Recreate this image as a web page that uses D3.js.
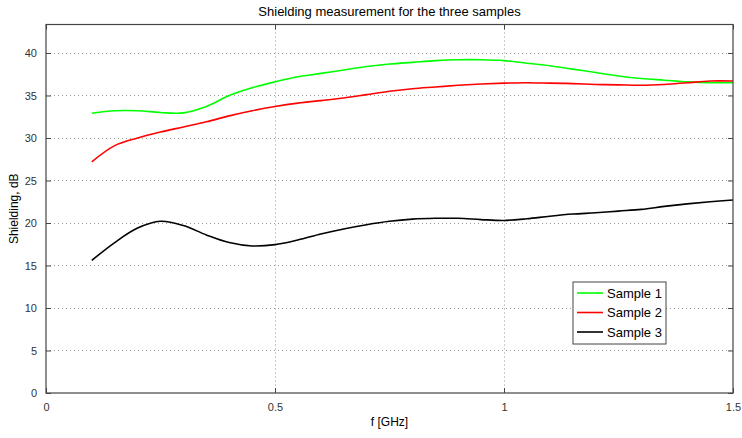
<!DOCTYPE html>
<html lang="en">
	<head>
		<meta charset="utf-8">
		<title>Shielding measurement</title>
		<script type="text/javascript" src="https://cdn.jsdelivr.net/npm/d3@7"></script>
		<style type="text/css">
			body { margin: 0; background: #fff; }
			text { font-family: "Liberation Sans", Arial, sans-serif; }
		</style>
	</head>
	<body>
		<script type="text/javascript">
			//Frequencies in GHz
			var freq = [0.1, 0.15, 0.2, 0.25, 0.3, 0.35, 0.4, 0.45, 0.5, 0.55, 0.6, 0.65, 0.7, 0.75, 0.8,
			            0.85, 0.9, 0.95, 1.0, 1.05, 1.1, 1.15, 1.2, 1.25, 1.3, 1.35, 1.4, 1.45, 1.5];

			//Shielding in dB, one array per sample
			var sample1 = [32.9, 33.2, 33.2, 33.0, 32.95, 33.7, 35.0, 35.9, 36.6, 37.2, 37.6, 38.0, 38.4, 38.7, 38.9,
			               39.1, 39.2, 39.2, 39.1, 38.8, 38.5, 38.1, 37.7, 37.3, 37.0, 36.8, 36.6, 36.5, 36.5];
			var sample2 = [27.2, 29.1, 30.0, 30.7, 31.3, 31.9, 32.6, 33.2, 33.7, 34.1, 34.4, 34.7, 35.1, 35.5, 35.8,
			               36.0, 36.2, 36.35, 36.45, 36.5, 36.45, 36.4, 36.3, 36.25, 36.2, 36.3, 36.5, 36.7, 36.7];
			var sample3 = [15.6, 17.7, 19.4, 20.2, 19.7, 18.6, 17.7, 17.3, 17.45, 18.0, 18.7, 19.3, 19.8, 20.2, 20.45,
			               20.55, 20.55, 20.4, 20.3, 20.5, 20.8, 21.05, 21.2, 21.4, 21.6, 21.95, 22.25, 22.5, 22.7];

			var seriesNames = ["Sample 1", "Sample 2", "Sample 3"];
			var seriesColors = ["#00ff00", "#ff0000", "#000000"];
			var xTicks = [0, 0.5, 1, 1.5];
			var yTicks = [0, 5, 10, 15, 20, 25, 30, 35, 40];

			//Width and height
			var w = 742;
			var h = 438;
			var pLeft = 46, pRight = 733, pTop = 24.5, pBottom = 393;

			var x = d3.scaleLinear().domain([0, 1.5]).range([pLeft, pRight]);
			var y = d3.scaleLinear().domain([0, 43.35]).range([pBottom, pTop]);

			var svg = d3.select("body")
						.append("svg")
						.attr("width", w)
						.attr("height", h);

			//Grid
			svg.append("g").selectAll("line")
			   .data(xTicks.slice(1, -1))
			   .enter().append("line")
			   .attr("x1", function(d) { return Math.round(x(d)) + 0.5; })
			   .attr("x2", function(d) { return Math.round(x(d)) + 0.5; })
			   .attr("y1", pTop).attr("y2", pBottom)
			   .style("stroke", "#999").style("stroke-dasharray", "1,3");

			svg.append("g").selectAll("line")
			   .data(yTicks.slice(1))
			   .enter().append("line")
			   .attr("y1", function(d) { return Math.round(y(d)) + 0.5; })
			   .attr("y2", function(d) { return Math.round(y(d)) + 0.5; })
			   .attr("x1", pLeft).attr("x2", pRight)
			   .style("stroke", "#999").style("stroke-dasharray", "1,3");

			//Axes with inward ticks on all four sides
			var axisBottom = d3.axisBottom(x).tickValues(xTicks).tickSize(-5).tickPadding(10)
			                   .tickFormat(function(d) { return d; });
			var axisTop = d3.axisTop(x).tickValues(xTicks).tickSize(-5).tickFormat("");
			var axisLeft = d3.axisLeft(y).tickValues(yTicks).tickSize(-5).tickPadding(9);
			var axisRight = d3.axisRight(y).tickValues(yTicks).tickSize(-5).tickFormat("");

			function styleAxis(g) {
				g.select(".domain").remove();
				g.selectAll("line").style("stroke", "#444");
				g.selectAll("text").style("font-size", "11px").style("fill", "#333")
				 .style("font-family", "'Liberation Sans', Arial, sans-serif");
			}

			svg.append("g").attr("transform", "translate(0," + pBottom + ")").call(axisBottom).call(styleAxis);
			svg.append("g").attr("transform", "translate(0," + pTop + ")").call(axisTop).call(styleAxis);
			svg.append("g").attr("transform", "translate(" + pLeft + ",0)").call(axisLeft).call(styleAxis);
			svg.append("g").attr("transform", "translate(" + pRight + ",0)").call(axisRight).call(styleAxis);

			//Lines
			var seriesData = [sample1, sample2, sample3];
			var line = d3.line()
						 .x(function(d, i) { return x(freq[i]); })
						 .y(function(d) { return y(d); })
						 .curve(d3.curveCatmullRom.alpha(0.5));

			svg.append("g").selectAll("path")
			   .data(seriesData)
			   .enter().append("path")
			   .attr("d", line)
			   .style("fill", "none")
			   .style("stroke", function(d, i) { return seriesColors[i]; })
			   .style("stroke-width", 1.6);

			//Box
			svg.append("rect")
			   .attr("x", pLeft).attr("y", pTop)
			   .attr("width", pRight - pLeft).attr("height", pBottom - pTop)
			   .style("fill", "none").style("stroke", "#444").style("stroke-width", 1.2);

			//Title and labels
			svg.append("text")
			   .attr("x", (pLeft + pRight) / 2).attr("y", 16)
			   .attr("text-anchor", "middle")
			   .style("font-size", "13px")
			   .text("Shielding measurement for the three samples");

			svg.append("text")
			   .attr("x", (pLeft + pRight) / 2).attr("y", 426)
			   .attr("text-anchor", "middle")
			   .style("font-size", "12px")
			   .text("f [GHz]");

			svg.append("text")
			   .attr("transform", "translate(18," + ((pTop + pBottom) / 2) + ") rotate(-90)")
			   .attr("text-anchor", "middle")
			   .style("font-size", "12px")
			   .text("Shielding, dB");

			//Legend
			var legend = svg.append("g").attr("transform", "translate(573,282)");
			legend.append("rect")
				  .attr("width", 93).attr("height", 62)
				  .style("fill", "#fff").style("stroke", "#444");

			var items = legend.selectAll("g.item")
							  .data(seriesNames)
							  .enter().append("g")
							  .attr("class", "item")
							  .attr("transform", function(d, i) { return "translate(0," + (11 + i * 19.5) + ")"; });

			items.append("line")
				 .attr("x1", 4).attr("x2", 30)
				 .style("stroke", function(d, i) { return seriesColors[i]; })
				 .style("stroke-width", 1.6);

			items.append("text")
				 .attr("x", 34).attr("y", 4.5)
				 .style("font-size", "13px")
				 .text(function(d) { return d; });
		</script>
	</body>
</html>
